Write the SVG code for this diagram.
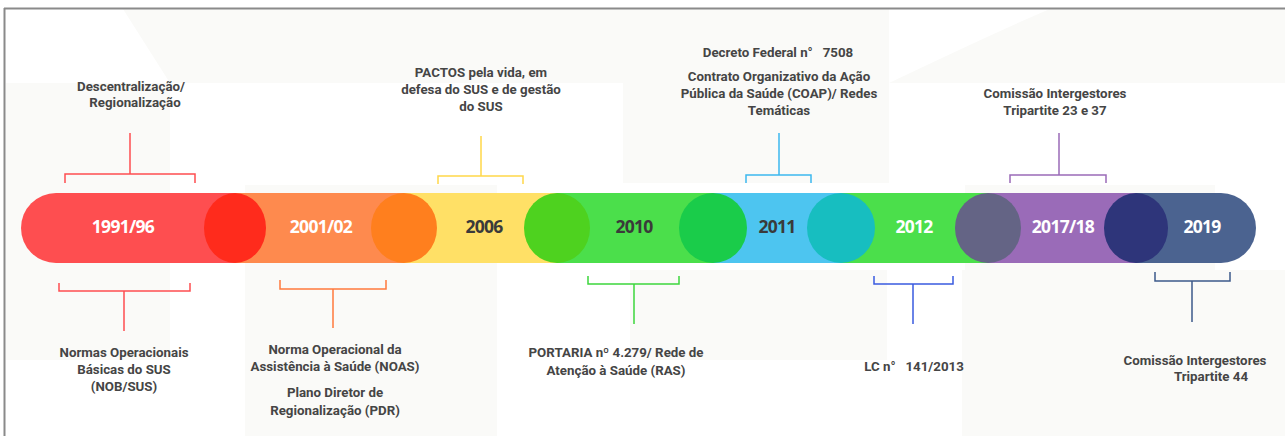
<svg xmlns="http://www.w3.org/2000/svg" width="1285" height="436" viewBox="0 0 1285 436">
  <style>
    .lbl { font-family: Roboto, "Liberation Sans", sans-serif; font-weight: 700; font-size: 13.3px; fill: #454545; text-anchor: middle; }
    .yr { font-family: "Open Sans", "Liberation Sans", sans-serif; font-weight: 700; font-size: 17.5px; text-anchor: middle; letter-spacing: -0.7px; }
    .w { fill: #ffffff; }
    .d { fill: #3a3a3a; }
    .br { fill: none; stroke-width: 1.5; }
    .wm { fill: #fafaf8; }
  </style>
  <rect x="0" y="0" width="1285" height="436" fill="#ffffff"/>
  <g id="watermark">
    <rect class="wm" x="6" y="83" width="164" height="277"/>
    <rect class="wm" x="245" y="185" width="252" height="251"/>
    <rect class="wm" x="623" y="9" width="266" height="174"/>
    <rect class="wm" x="630" y="270" width="257" height="90"/>
    <rect class="wm" x="962" y="270" width="323" height="166"/>
    <rect class="wm" x="965" y="185" width="250" height="85"/>
    <path class="wm" d="M889,83 Q1000,30 1050,9 L1285,9 L1285,83 Z"/>
    <path class="wm" d="M123,9 L623,9 L623,83 L170,83 Z"/>
  </g>
  <g id="frame">
    <line x1="4.5" y1="8" x2="4.5" y2="436" stroke="#8a8a8a" stroke-width="2"/>
    <line x1="4" y1="8.5" x2="1285" y2="8.5" stroke="#8a8a8a" stroke-width="2"/>
  </g>
  <g id="bar">
    <path d="M56,193 L235,193 L235,263 L56,263 A35,35 0 0 1 56,193 Z" fill="#fe4e50"/>
    <rect x="234" y="193" width="171" height="70" fill="#fe8a4e"/>
    <rect x="404" y="193" width="154" height="70" fill="#ffe066"/>
    <rect x="557" y="193" width="157" height="70" fill="#4bdf4b"/>
    <rect x="713" y="193" width="129" height="70" fill="#4dc5f0"/>
    <rect x="841" y="193" width="148" height="70" fill="#4bdf4b"/>
    <rect x="988" y="193" width="149" height="70" fill="#9a6bb8"/>
    <path d="M1136,193 L1221,193 A35,35 0 0 1 1221,263 L1136,263 Z" fill="#4b6390"/>
    <ellipse cx="235" cy="228" rx="31" ry="35" fill="#ff2b1c"/>
    <ellipse cx="404" cy="228" rx="33" ry="35" fill="#ff7f1e"/>
    <ellipse cx="557" cy="228" rx="33" ry="35" fill="#4ed21f"/>
    <ellipse cx="713" cy="228" rx="34" ry="35" fill="#1acc4a"/>
    <ellipse cx="841" cy="228" rx="34" ry="35" fill="#17bec0"/>
    <ellipse cx="988" cy="228" rx="33" ry="35" fill="#646485"/>
    <ellipse cx="1136" cy="228" rx="32" ry="35" fill="#2e357a"/>
  </g>
  <g id="y1991"><text class="yr w" x="123" y="233">1991/96</text></g>
  <g id="y2001"><text class="yr w" x="321" y="233">2001/02</text></g>
  <g id="y2006"><text class="yr d" x="484" y="233">2006</text></g>
  <g id="y2010"><text class="yr d" x="634" y="233">2010</text></g>
  <g id="y2011"><text class="yr d" x="777" y="233">2011</text></g>
  <g id="y2012"><text class="yr w" x="914" y="233">2012</text></g>
  <g id="y2017"><text class="yr w" x="1063" y="233">2017/18</text></g>
  <g id="y2019"><text class="yr w" x="1202" y="233">2019</text></g>

  <g id="connectors">
    <path class="br" stroke="#fe4e50" d="M130,133 V174 M65,183 V174 H195 V183"/>
    <path class="br" stroke="#ffd84a" d="M481,136 V176 M438,184 V176 H523 V184"/>
    <path class="br" stroke="#3cb8ee" d="M779,133 V175 M746,183 V175 H811 V183"/>
    <path class="br" stroke="#9a6bb8" d="M1059,133 V175 M1010,183 V175 H1106 V183"/>
    <path class="br" stroke="#fe4e50" d="M124,331 V291 M59,283 V291 H190 V283"/>
    <path class="br" stroke="#ff7a3d" d="M333,328 V289 M280,280 V289 H386 V280"/>
    <path class="br" stroke="#3dd63d" d="M634,324 V284 M588,276 V284 H679 V276"/>
    <path class="br" stroke="#3a5be0" d="M913,324 V284 M874,276 V284 H953 V276"/>
    <path class="br" stroke="#3d5a8a" d="M1192,322 V281 M1155,272 V281 H1230 V272"/>
  </g>

  <g id="t1991">
    <text class="lbl" x="131" y="91">Descentralização/</text>
    <text class="lbl" x="135" y="107">Regionalização</text>
  </g>
  <g id="t2006">
    <text class="lbl" x="481" y="77">PACTOS pela vida, em</text>
    <text class="lbl" x="481" y="94">defesa do SUS e de gestão</text>
    <text class="lbl" x="481" y="111">do SUS</text>
  </g>
  <g id="t2011">
    <text class="lbl" x="778" y="57" xml:space="preserve">Decreto Federal n°   7508</text>
    <text class="lbl" x="779" y="81">Contrato Organizativo da Ação</text>
    <text class="lbl" x="779" y="98">Pública da Saúde (COAP)/ Redes</text>
    <text class="lbl" x="779" y="115">Temáticas</text>
  </g>
  <g id="t2017">
    <text class="lbl" x="1055" y="98">Comissão Intergestores</text>
    <text class="lbl" x="1055" y="115">Tripartite 23 e 37</text>
  </g>
  <g id="b1991">
    <text class="lbl" x="124" y="357">Normas Operacionais</text>
    <text class="lbl" x="124" y="374">Básicas do SUS</text>
    <text class="lbl" x="124" y="391">(NOB/SUS)</text>
  </g>
  <g id="b2001">
    <text class="lbl" x="335" y="354">Norma Operacional da</text>
    <text class="lbl" x="335" y="371">Assistência à Saúde (NOAS)</text>
    <text class="lbl" x="335" y="397">Plano Diretor de</text>
    <text class="lbl" x="335" y="415">Regionalização (PDR)</text>
  </g>
  <g id="b2010">
    <text class="lbl" x="616" y="357">PORTARIA nº 4.279/ Rede de</text>
    <text class="lbl" x="616" y="375">Atenção à Saúde (RAS)</text>
  </g>
  <g id="b2012">
    <text class="lbl" x="914" y="371" xml:space="preserve">LC n°   141/2013</text>
  </g>
  <g id="b2019">
    <text class="lbl" x="1195" y="365">Comissão Intergestores</text>
    <text class="lbl" x="1211" y="381">Tripartite 44</text>
  </g>
</svg>
